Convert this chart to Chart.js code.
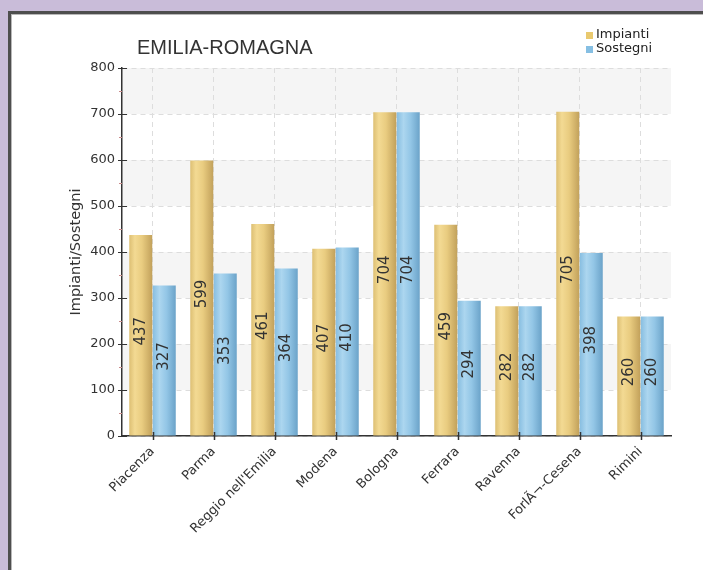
<!DOCTYPE html>
<html>
<head>
<meta charset="utf-8">
<script src="https://cdn.jsdelivr.net/npm/chart.js@4/dist/chart.umd.min.js"></script>
<style>
  html, body { margin: 0; padding: 0; background: #ffffff; }
  #wrap { position: absolute; left: 0; top: 0; width: 703px; height: 570px; }
  canvas { display: block; }
</style>
</head>
<body>
<div id="wrap"><canvas id="c" width="703" height="570"></canvas></div>
<script>
// Regional counts per province
const chartTitle = 'EMILIA-ROMAGNA';
const axisTitle = 'Impianti/Sostegni';
const provinces = ['Piacenza', 'Parma', "Reggio nell'Emilia", 'Modena', 'Bologna', 'Ferrara', 'Ravenna', 'Forl\u00C3\u00AC-Cesena', 'Rimini'];
const seriesNames = ['Impianti', 'Sostegni'];
const impianti = [437, 599, 461, 407, 704, 459, 282, 705, 260];
const sostegni = [327, 353, 364, 410, 704, 294, 282, 398, 260];
const yMin = 0, yMax = 800, yStep = 100;

const CAT_PCT = 0.77;
const TEXT = '#333333';

// Horizontal "cylinder" shading for each bar, computed from the x scale
function barFill(stops, flat) {
  return (ctx) => {
    const chart = ctx.chart;
    const xs = chart.scales && chart.scales.x;
    if (!xs || ctx.type !== 'data' || !isFinite(xs.width) || xs.width <= 0) return flat;
    const cat = xs.width / provinces.length;
    const group = cat * CAT_PCT;
    const bw = group / 2;
    const center = xs.getPixelForValue(ctx.dataIndex);
    const left = center - group / 2 + ctx.datasetIndex * bw;
    if (!isFinite(left)) return flat;
    const g = chart.ctx.createLinearGradient(left, 0, left + bw, 0);
    stops.forEach(([o, c]) => g.addColorStop(o, c));
    return g;
  };
}
const goldStops = [[0, '#dcbe72'], [0.25, '#f3da93'], [0.55, '#e9cc80'], [1, '#c1a05a']];
const blueStops = [[0, '#86bde0'], [0.3, '#acd6ef'], [0.6, '#93c6e6'], [1, '#6aa2c8']];
const seriesFlat = ['#e9c96f', '#86bfe3'];

const decor = {
  id: 'decor',
  beforeDraw(chart) {
    const { ctx, width, height, chartArea: a, scales: { y } } = chart;
    ctx.save();
    // page backdrop and framed white panel
    ctx.fillStyle = '#c9bcd9';
    ctx.fillRect(0, 0, width, height);
    ctx.fillStyle = '#ffffff';
    ctx.fillRect(8, 11, width - 8, height - 11);
    ctx.fillStyle = '#4e4e4e';
    ctx.fillRect(8, 11, width - 8, 3);
    ctx.fillRect(8, 11, 3, height - 11);
    ctx.fillStyle = '#b8b8b8';
    ctx.fillRect(11, 14, width - 11, 1);
    ctx.fillRect(11, 14, 1, height - 14);
    // alternating bands behind the grid
    ctx.fillStyle = '#f5f5f5';
    const ticks = y.ticks.map(t => t.value);
    for (let i = ticks.length - 1, k = 0; i > 0; i--, k++) {
      if (k % 2 === 0) {
        const top = y.getPixelForValue(ticks[i]);
        const bot = y.getPixelForValue(ticks[i - 1]);
        ctx.fillRect(a.left, top, a.right - a.left, bot - top);
      }
    }
    ctx.restore();
  },
  afterDatasetsDraw(chart) {
    const { ctx } = chart;
    ctx.save();
    ctx.fillStyle = TEXT;
    ctx.font = '15px "DejaVu Sans"';
    ctx.textAlign = 'center';
    ctx.textBaseline = 'middle';
    chart.data.datasets.forEach((ds, di) => {
      const meta = chart.getDatasetMeta(di);
      meta.data.forEach((bar, i) => {
        const cy = (bar.y + bar.base) / 2 - 4;
        ctx.save();
        ctx.translate(bar.x, cy);
        ctx.rotate(-Math.PI / 2);
        ctx.fillText(String(ds.data[i]), 0, 0);
        ctx.restore();
      });
    });
    ctx.restore();
  },
  afterDraw(chart) {
    const { ctx, chartArea: a, scales: { x, y } } = chart;
    ctx.save();
    // axis tick marks
    ctx.lineWidth = 1;
    ctx.strokeStyle = '#333';
    y.ticks.forEach(t => {
      const py = Math.round(y.getPixelForValue(t.value)) + 0.5;
      ctx.beginPath(); ctx.moveTo(a.left - 4, py); ctx.lineTo(a.left + 5, py); ctx.stroke();
    });
    ctx.strokeStyle = '#c98a8a';
    for (let v = yMin + yStep / 2; v < yMax; v += yStep) {
      const py = Math.round(y.getPixelForValue(v)) + 0.5;
      ctx.beginPath(); ctx.moveTo(a.left - 3, py); ctx.lineTo(a.left, py); ctx.stroke();
    }
    ctx.strokeStyle = '#333';
    ctx.lineWidth = 1.5;
    provinces.forEach((p, i) => {
      const px = Math.round(x.getPixelForValue(i)) + 0.5;
      ctx.beginPath(); ctx.moveTo(px, a.bottom - 4); ctx.lineTo(px, a.bottom + 4); ctx.stroke();
    });
    // title
    ctx.fillStyle = TEXT;
    ctx.font = '20px "Liberation Sans"';
    ctx.textAlign = 'left';
    ctx.textBaseline = 'middle';
    ctx.fillText(chartTitle, 137, 48);
    // legend
    ctx.font = '13px "DejaVu Sans"';
    chart.data.datasets.forEach((ds, i) => {
      const ly = 35 + i * 14;
      ctx.fillStyle = seriesFlat[i];
      ctx.fillRect(586, ly - 3, 7, 7);
      ctx.fillStyle = '#222';
      ctx.fillText(ds.label, 596, ly);
    });
    ctx.restore();
  }
};

new Chart(document.getElementById('c'), {
  type: 'bar',
  data: {
    labels: provinces,
    datasets: [
      { label: seriesNames[0], data: impianti, backgroundColor: barFill(goldStops, seriesFlat[0]) },
      { label: seriesNames[1], data: sostegni, backgroundColor: barFill(blueStops, seriesFlat[1]) }
    ]
  },
  options: {
    responsive: false,
    animation: false,
    events: [],
    categoryPercentage: CAT_PCT,
    barPercentage: 0.98,
    layout: { padding: { left: 64, right: 32, top: 68, bottom: 0 } },
    plugins: { legend: { display: false }, title: { display: false }, tooltip: { enabled: false } },
    scales: {
      x: {
        grid: { offset: false, color: '#dddddd', drawTicks: false },
        border: { color: '#333', width: 1.5, dash: [5, 4] },
        ticks: { color: TEXT, font: { family: 'DejaVu Sans', size: 13 }, minRotation: 45, maxRotation: 45, autoSkip: false, padding: 8 },
        afterFit(s) { s.height = 134; }
      },
      y: {
        min: yMin, max: yMax,
        grid: { color: '#dddddd', drawTicks: false },
        border: { color: '#333', width: 1.5, dash: [5, 4] },
        ticks: { stepSize: yStep, color: TEXT, font: { family: 'DejaVu Sans', size: 13 }, padding: 7 },
        title: { display: true, text: axisTitle, color: TEXT, font: { family: 'DejaVu Sans', size: 14.5 }, padding: 4 },
        afterFit(s) { s.width = 58; }
      }
    }
  },
  plugins: [decor]
});
</script>
</body>
</html>
